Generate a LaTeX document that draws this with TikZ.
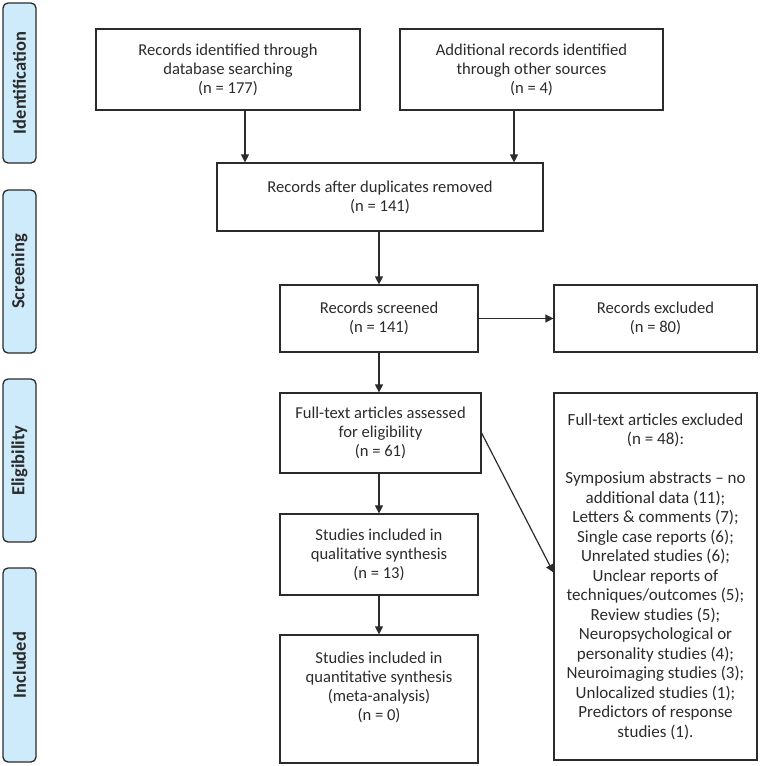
\documentclass[tikz,border=0pt]{standalone}
\usepackage{fontspec}
\setmainfont{Carlito}
\usetikzlibrary{arrows.meta}
\definecolor{phasefill}{HTML}{CDEBFA}
\definecolor{linegray}{HTML}{2B2B2B}
\begin{document}
\begin{tikzpicture}[x=1pt, y=-1pt,
  box/.style={shape=rectangle, draw=linegray, line width=1.2pt, align=center, text=linegray, font=\fontsize{16.6}{19}\selectfont, inner sep=2pt},
  phase/.style={shape=rectangle, rounded corners=5pt, draw=linegray, fill=phasefill, line width=1.3pt, rotate=90, minimum height=33pt, font=\bfseries\fontsize{18.5}{19}\selectfont, text=linegray},
  arr/.style={-{Triangle[length=8pt, width=8pt]}, line width=1.2pt, draw=linegray}]
\useasboundingbox (0,0) rectangle (760,766);
% phases on the left
\node[phase, minimum width=160pt] (pid) at (19.5, 83) {Identification};
\node[phase, minimum width=163pt] (psc) at (19.5, 271.5) {Screening};
\node[phase, minimum width=163pt] (pel) at (19.5, 460.5) {Eligibility};
\node[phase, minimum width=194pt] (pin) at (19.5, 665) {Included};
% flow boxes
\node[box, minimum width=264pt, minimum height=81pt] (rid) at (228, 69.5) {Records identified through\\database searching\\(n = 177)};
\node[box, minimum width=263pt, minimum height=81pt] (radd) at (531.5, 69.5) {Additional records identified\\through other sources\\(n = 4)};
\node[box, minimum width=326pt, minimum height=68pt] (dup) at (380, 197) {Records after duplicates removed\\(n = 141)};
\node[box, minimum width=198pt, minimum height=67pt] (scr) at (379, 318.5) {Records screened\\(n = 141)};
\node[box, minimum width=203pt, minimum height=67pt] (rexc) at (655.5, 318.5) {Records excluded\\(n = 80)};
\node[box, minimum width=201pt, minimum height=80pt] (ass) at (380.5, 433) {Full-text articles assessed\\for eligibility\\(n = 61)};
\node[box, minimum width=198pt, minimum height=81pt] (qual) at (379, 554.5) {Studies included in\\qualitative synthesis\\(n = 13)};
\node[box, minimum width=198pt, minimum height=128pt] (quan) at (379, 699) {Studies included in\\quantitative synthesis\\(meta-analysis)\\(n = 0)\\[6pt]};
\node[box, minimum width=203pt, minimum height=367pt, font=\fontsize{17}{19.5}\selectfont] (fexc) at (655.5, 576.5) {Full-text articles excluded\\(n = 48):\\[19.5pt]Symposium abstracts -- no\\additional data (11);\\Letters \& comments (7);\\Single case reports (6);\\Unrelated studies (6);\\Unclear reports of\\techniques/outcomes (5);\\Review studies (5);\\Neuropsychological or\\personality studies (4);\\Neuroimaging studies (3);\\Unlocalized studies (1);\\Predictors of response\\studies (1).};
% connectors
\draw[arr] ([xshift=17pt]rid.south) -- ([xshift=17pt]rid.south |- dup.north);
\draw[arr] ([xshift=-17.5pt]radd.south) -- ([xshift=-17.5pt]radd.south |- dup.north);
\draw[arr] (dup.south -| scr.north) -- (scr.north);
\draw[arr] (scr.east) -- (rexc.west);
\draw[arr] (scr.south) -- (scr.south |- ass.north);
\draw[arr] (ass.east) -- ([yshift=4pt]fexc.west);
\draw[arr] (scr.south |- ass.south) -- (qual.north);
\draw[arr] (qual.south) -- (quan.north);
\end{tikzpicture}
\end{document}
